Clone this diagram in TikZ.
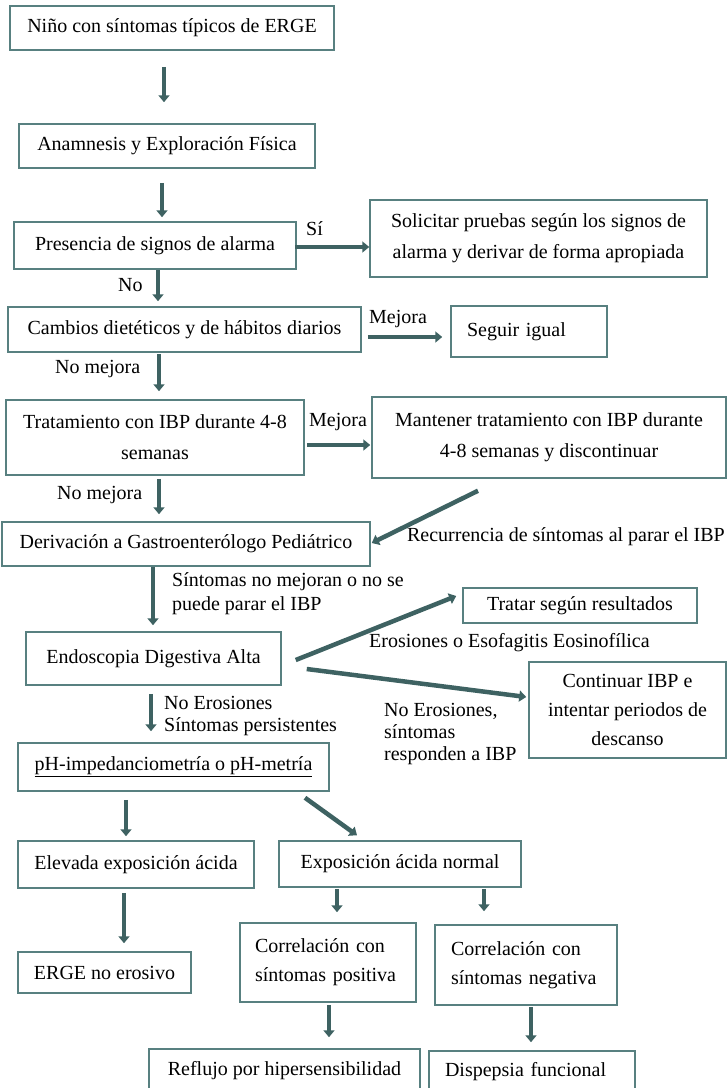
\documentclass[tikz,border=0pt]{standalone}
\usepackage{fontspec}
\setmainfont{Liberation Serif}
\usetikzlibrary{arrows.meta}
\definecolor{boxline}{RGB}{88,128,128}
\definecolor{arrowc}{RGB}{62,98,98}
\begin{document}
\begin{tikzpicture}[x=1pt,y=-1pt,
  font=\fontsize{20}{31}\selectfont,
  card/.style={draw=boxline, line width=1.5pt, inner sep=0pt, align=center},
  leftcard/.style={card, align=left, inner xsep=#1},
  lbl/.style={inner sep=0pt},
  multilbl/.style={inner sep=0pt, align=left, font=\fontsize{20}{22}\selectfont},
  arr/.style={draw=arrowc, line width=4.5pt, -{Triangle[width=11pt,length=7pt]}}]
\useasboundingbox (0,0) rectangle (727,1088);
\clip (0,0) rectangle (727,1088);

% boxes
\node[card, minimum width=324, minimum height=44] (b1) at (172,28) {Niño con síntomas típicos de ERGE};
\node[card, minimum width=296, minimum height=44] (b2) at (167,146) {Anamnesis y Exploración Física};
\node[card, minimum width=282, minimum height=47] (b3) at (155,245.5) {Presencia de signos de alarma};
\node[card, minimum width=337, minimum height=77] (b4) at (538.5,238.5) {Solicitar pruebas según los signos de\\alarma y derivar de forma apropiada};
\node[card, minimum width=353, minimum height=45] (b5) at (184.5,329.5) {Cambios dietéticos y de hábitos diarios};
\node[leftcard=16, text width=124, minimum height=51] (b6) at (529,331.5) {Seguir igual};
\node[card, minimum width=298, minimum height=75] (b7) at (155,437.5) {Tratamiento con IBP durante 4-8\\semanas};
\node[card, minimum width=354, minimum height=81] (b8) at (549,437.5) {Mantener tratamiento con IBP durante\\4-8 semanas y discontinuar};
\node[card, minimum width=368, minimum height=44] (b9) at (186,544) {Derivación a Gastroenterólogo Pediátrico};
\node[card, minimum width=255, minimum height=53] (b10) at (153.5,658.5) {Endoscopia Digestiva Alta};
\node[card, minimum width=234, minimum height=35] (b11) at (580,605.5) {Tratar según resultados};
\node[card, minimum width=197, minimum height=96, font=\fontsize{20}{29}\selectfont] (b12) at (627.5,710) {Continuar IBP e\\intentar periodos de\\descanso};
\node[card, minimum width=311, minimum height=48] (b13) at (173.5,767) {\underline{pH-impedanciometría o pH-metría}};
\node[card, minimum width=236, minimum height=47] (b14) at (136,864.5) {Elevada exposición ácida};
\node[card, minimum width=242, minimum height=46] (b15) at (400,864) {Exposición ácida normal};
\node[card, minimum width=173, minimum height=41] (b16) at (104.5,972.5) {ERGE no erosivo};
\node[leftcard=15, text width=146, minimum height=79, font=\fontsize{20}{29}\selectfont] (b17) at (328,962.5) {Correlación con\\síntomas positiva};
\node[leftcard=16, text width=150, minimum height=80, font=\fontsize{20}{29}\selectfont] (b18) at (526,965) {Correlación con\\síntomas negativa};
\node[card, minimum width=271, minimum height=43] (b19) at (284.5,1070.5) {Reflujo por hipersensibilidad};
\node[leftcard=16, text width=174, minimum height=42] (b20) at (532,1072) {Dispepsia funcional};

% connectors
\draw[arr] ([xshift=-8,yshift=-16]b1.south) -- ([xshift=-3,yshift=21]b2.north);
\draw[arr] ([xshift=-5,yshift=-14]b2.south) -- ([xshift=7,yshift=4]b3.north);
\draw[arr] ([xshift=3]b3.south) -- ([xshift=-26.5,yshift=5]b5.north);
\draw[arr] ([xshift=-2,yshift=-1.5]b3.east) -- ([yshift=-8.5]b4.west);
\draw[arr] ([xshift=6,yshift=-7.5]b5.east) -- ([xshift=-8,yshift=-5.5]b6.west);
\draw[arr] ([xshift=-25.5,yshift=-1]b5.south) -- ([xshift=4,yshift=8]b7.north);
\draw[arr] ([xshift=2,yshift=-7.5]b7.east) -- ([xshift=-1,yshift=-7.5]b8.west);
\draw[arr] ([xshift=4,yshift=-3]b7.south) -- ([xshift=-27,yshift=7]b9.north);
\draw[arr] ([xshift=-71,yshift=-12]b8.south) -- ([xshift=1,yshift=1]b9.east);
\draw[arr] ([xshift=-33]b9.south) -- ([xshift=-0.5,yshift=6]b10.north);
\draw[arr] ([xshift=14,yshift=-1.5]b10.east) -- ([xshift=-6,yshift=9.5]b11.west);
\draw[arr] ([xshift=25,yshift=-10.5]b10.east) -- ([xshift=-2,yshift=13]b12.west);
\draw[arr] ([xshift=-2.5,yshift=-8]b10.south) -- ([xshift=-22.5,yshift=11]b13.north);
\draw[arr] ([xshift=-47.5,yshift=-8]b13.south) -- ([xshift=-10,yshift=4]b14.north);
\draw[arr] ([xshift=131.5,yshift=-6]b13.south) -- ([xshift=-43,yshift=5]b15.north);
\draw[arr] ([xshift=-12,yshift=-4]b14.south) -- ([xshift=19.5,yshift=8]b16.north);
\draw[arr] ([xshift=-63,yshift=-1]b15.south) -- ([xshift=9,yshift=10]b17.north);
\draw[arr] ([xshift=84,yshift=-1]b15.south) -- ([xshift=-42,yshift=13]b18.north);
\draw[arr] ([xshift=1,yshift=-2]b17.south) -- ([xshift=44.5,yshift=11]b19.north);
\draw[arr] ([xshift=5,yshift=-1]b18.south) -- ([xshift=-1,yshift=8]b20.north);

% connector labels
\node[lbl, anchor=base west] (l1) at (306,235) {Sí};
\node[lbl, anchor=base west] (l2) at (118,291) {No};
\node[lbl, anchor=base west] (l3) at (369,323) {Mejora};
\node[lbl, anchor=base west] (l4) at (55,373) {No mejora};
\node[lbl, anchor=base west] (l5) at (309,426) {Mejora};
\node[lbl, anchor=base west] (l6) at (57,499) {No mejora};
\node[lbl, anchor=base east] (l7) at (725,541) {Recurrencia de síntomas al parar el IBP};
\node[multilbl, anchor=west, font=\fontsize{20}{24}\selectfont] (l8) at (172,594) {Síntomas no mejoran o no se\\puede parar el IBP};
\node[lbl, anchor=base west] (l9) at (369,647) {Erosiones o Esofagitis Eosinofílica};
\node[multilbl, anchor=west] (l10) at (164,716) {No Erosiones\\Síntomas persistentes};
\node[multilbl, anchor=west] (l11) at (384,734) {No Erosiones,\\síntomas\\responden a IBP};
\end{tikzpicture}
\end{document}
